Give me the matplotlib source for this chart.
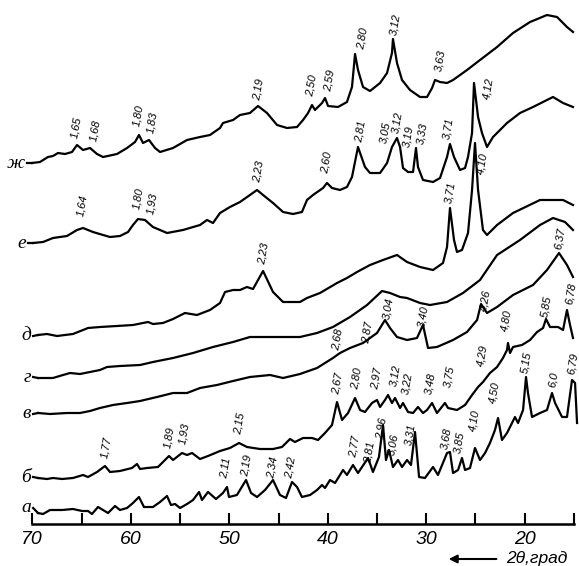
import matplotlib.pyplot as plt
import numpy as np

# 2theta (deg) and intensity (arb. units, curves already stacked)
a_x = [69.42, 68.91, 68.20, 66.98, 65.87, 64.95, 64.34, 63.94, 63.33, 62.82, 62.31, 61.60, 61.10, 60.38,
       59.78, 59.17, 58.66, 57.75, 57.03, 56.32, 55.92, 55.51, 55.00, 54.29, 53.68, 53.07, 52.77, 52.16,
       51.35, 50.64, 50.23, 50.03, 49.22, 48.30, 47.79, 47.18, 46.37, 45.56, 44.85, 44.24, 43.63, 43.12,
       42.62, 41.80, 41.09, 40.58, 40.28, 39.77, 39.26, 38.45, 38.05, 37.44, 36.93, 35.91, 35.41, 34.80,
       34.39, 34.09, 33.78, 33.38, 32.87, 32.46, 31.95, 31.55, 31.14, 30.73, 30.13, 29.31, 28.81, 27.89,
       27.59, 27.28, 26.77, 26.37, 26.06, 25.56, 25.05, 24.54, 24.03, 23.53, 23.02, 22.71, 22.31, 21.80,
       21.29, 20.99, 20.68, 20.17, 19.87, 19.67, 19.26, 18.45, 17.74, 17.23, 16.92, 16.21, 15.71, 15.20,
       14.89, 14.69]
a_y = [53, 52, 56, 56, 57, 55, 55, 52, 59, 56, 53, 60, 56, 58,
       63, 69, 59, 59, 64, 70, 61, 62, 58, 62, 66, 74, 66, 74,
       67, 73, 79, 69, 71, 86, 73, 69, 76, 86, 71, 68, 84, 79,
       69, 71, 76, 81, 78, 86, 83, 96, 91, 101, 93, 108, 94, 109,
       141, 106, 116, 99, 106, 99, 106, 101, 134, 89, 88, 99, 91, 113,
       114, 93, 96, 108, 96, 98, 118, 106, 113, 123, 136, 148, 126, 133,
       143, 149, 143, 156, 189, 173, 149, 153, 156, 173, 163, 149, 149, 186,
       183, 143]

b_x = [69.42, 68.51, 67.90, 66.98, 65.87, 64.85, 64.34, 63.43, 62.62, 62.11, 61.10, 59.88, 59.37, 59.06,
       58.35, 57.24, 56.73, 56.12, 55.71, 54.80, 54.29, 53.78, 52.97, 52.16, 50.94, 49.93, 49.01, 48.20,
       46.88, 45.56, 44.65, 43.83, 43.33, 42.51, 41.60, 40.99, 40.28, 39.57, 39.06, 38.55, 37.94, 37.23,
       36.72, 36.22, 35.51, 35.00, 34.69, 34.19, 33.88, 33.48, 33.17, 32.66, 32.36, 31.85, 31.34, 30.84,
       30.33, 29.92, 29.41, 28.91, 28.10, 27.79, 26.88, 26.06, 25.35, 24.74, 24.24, 23.53, 22.81, 22.21,
       21.80, 21.70, 21.49, 21.19, 20.28, 19.46, 18.75, 18.14, 17.84, 17.43, 16.62, 16.11, 15.71, 15.40,
       15.10]
b_y = [88, 87, 88, 87, 88, 91, 89, 94, 100, 94, 95, 98, 102, 97,
       98, 99, 104, 110, 106, 113, 111, 113, 107, 110, 115, 118, 123, 119,
       117, 117, 119, 127, 124, 128, 128, 126, 133, 141, 164, 146, 153, 168,
       156, 154, 163, 166, 159, 166, 171, 163, 168, 158, 163, 154, 153, 159,
       153, 156, 163, 153, 163, 158, 156, 161, 171, 179, 184, 193, 199, 208,
       216, 223, 213, 219, 221, 226, 234, 238, 247, 239, 239, 236, 256, 241,
       228]

v_x = [69.42, 68.20, 66.48, 65.16, 64.14, 63.13, 61.81, 60.38, 59.06, 57.34, 55.71, 54.29, 52.97, 51.25,
       49.62, 47.90, 45.86, 44.54, 42.82, 41.09, 39.47, 38.76, 37.74, 36.42, 35.71, 35.00, 34.19, 33.68,
       32.97, 31.95, 30.94, 30.33, 29.82, 28.91, 27.28, 25.86, 24.84, 24.44, 23.83, 22.81, 21.19, 19.16,
       17.74, 16.52, 15.71, 15.10]
v_y = [153, 152, 153, 153, 155, 158, 161, 163, 165, 169, 173, 173, 178, 181,
       185, 189, 191, 188, 192, 198, 208, 213, 218, 223, 228, 233, 246, 238,
       229, 226, 228, 241, 218, 219, 226, 234, 246, 262, 253, 259, 271, 281,
       296, 313, 301, 289]

g_x = [69.42, 67.90, 66.88, 66.17, 65.16, 64.14, 63.13, 62.41, 61.10, 59.06, 57.75, 55.71, 53.68, 51.65,
       49.62, 47.90, 46.17, 44.54, 42.82, 41.09, 39.47, 37.74, 36.01, 34.49, 33.68, 32.66, 31.95, 30.63,
       29.62, 27.89, 26.27, 24.54, 22.81, 20.48, 18.45, 17.13, 15.91, 15.10]
g_y = [188, 188, 191, 193, 192, 194, 196, 199, 200, 201, 204, 208, 213, 219,
       224, 229, 229, 229, 229, 233, 239, 249, 261, 275, 273, 269, 268, 263,
       261, 264, 273, 286, 311, 326, 341, 348, 344, 336]

d_x = [69.42, 68.51, 67.49, 65.87, 64.34, 63.13, 61.40, 59.78, 58.25, 57.75, 56.73, 55.71, 54.50, 53.28,
       51.96, 50.94, 50.43, 49.62, 48.91, 48.20, 47.59, 46.57, 45.56, 44.54, 42.82, 42.11, 40.79, 39.06,
       38.05, 37.03, 35.71, 34.39, 32.97, 31.95, 30.63, 29.31, 28.30, 27.89, 27.59, 27.18, 26.88, 26.37,
       25.76, 25.35, 25.05, 24.74, 24.24, 23.83, 22.81, 21.19, 18.45, 16.11, 15.10]
d_y = [231, 232, 230, 232, 238, 239, 240, 241, 244, 242, 243, 247, 253, 251,
       256, 263, 274, 276, 276, 279, 277, 295, 274, 264, 264, 268, 273, 283,
       288, 294, 301, 306, 311, 304, 299, 296, 303, 319, 358, 326, 314, 316,
       333, 376, 423, 376, 336, 331, 341, 353, 366, 366, 361]

e_x = [69.93, 68.91, 67.90, 66.48, 65.46, 64.85, 63.84, 62.82, 62.11, 61.10, 60.28, 59.78, 59.27, 58.56,
       57.75, 57.03, 56.32, 54.70, 52.97, 52.26, 51.65, 50.94, 49.93, 48.91, 47.90, 47.18, 46.57, 45.56,
       44.54, 43.53, 42.62, 42.11, 41.50, 40.48, 40.08, 39.57, 38.76, 38.05, 37.54, 36.93, 36.22, 35.71,
       34.69, 33.98, 33.48, 32.97, 32.66, 32.36, 31.85, 31.34, 31.04, 30.84, 30.33, 29.31, 28.60, 27.89,
       27.59, 27.18, 26.57, 26.06, 25.76, 25.35, 25.15, 24.74, 24.34, 23.83, 23.22, 21.80, 20.48, 19.16,
       17.74, 17.13, 16.11, 15.10]
e_y = [323, 324, 328, 330, 336, 338, 334, 331, 329, 330, 334, 341, 347, 346,
       339, 336, 333, 336, 341, 346, 343, 353, 359, 364, 371, 376, 371, 363,
       354, 352, 354, 366, 371, 378, 383, 378, 376, 379, 389, 419, 399, 393,
       393, 403, 419, 428, 419, 398, 394, 394, 418, 399, 386, 384, 388, 409,
       422, 409, 396, 398, 409, 433, 483, 449, 433, 419, 429, 443, 453, 459,
       466, 469, 463, 459]

zh_x = [70.03, 69.22, 68.41, 67.90, 67.39, 66.68, 65.97, 65.46, 64.85, 64.14, 63.43, 62.82, 61.40, 60.38,
        59.57, 59.17, 58.76, 58.15, 57.54, 57.03, 55.71, 54.29, 52.97, 51.96, 50.94, 50.64, 49.62, 48.91,
        47.90, 47.08, 46.17, 45.15, 44.14, 43.12, 42.51, 42.00, 41.60, 41.30, 40.58, 40.28, 39.97, 38.96,
        38.05, 37.54, 37.23, 36.93, 36.42, 35.71, 35.20, 34.69, 33.98, 33.48, 33.38, 32.97, 32.46, 31.65,
        30.63, 29.92, 29.41, 29.11, 28.60, 27.89, 27.28, 25.86, 24.54, 22.81, 21.19, 19.46, 17.74, 16.72,
        15.71, 15.10]
zh_y = [403, 404, 409, 410, 413, 412, 414, 421, 416, 418, 412, 409, 412, 418,
        424, 431, 423, 426, 418, 414, 418, 426, 429, 431, 438, 443, 446, 451,
        453, 460, 453, 441, 438, 439, 446, 453, 461, 456, 463, 468, 460, 459,
        464, 479, 512, 496, 479, 475, 479, 483, 493, 513, 527, 503, 486, 476,
        469, 469, 478, 486, 484, 483, 486, 496, 506, 519, 533, 544, 551, 549,
        539, 534]

# curve names and where they sit at the left end
curve_names = ["а", "б", "в", "г", "д", "е", "ж"]
curve_name_y = [58, 89, 152, 189, 230, 323, 403]

# d-spacing labels (text, 2theta, height of label centre)
peak_text = ["1,65", "1,68", "1,80", "1,83", "2,19", "2,50", "2,59", "2,80", "3,12", "3,63",
             "1,64", "1,80", "1,93", "2,23", "2,60", "2,81", "3,05", "3,12", "3,19", "3,33", "3,71", "4,12",
             "2,23", "3,71", "4,10",
             "6,37",
             "2,68", "2,87", "3,04", "3,40", "4,26",
             "1,77", "1,89", "1,93", "2,15", "2,67", "2,80", "2,97", "3,12", "3,22", "3,48", "3,75",
             "4,29", "4,80", "5,85", "6,78",
             "2,11", "2,19", "2,34", "2,42", "2,77", "2,81", "2,96", "3,06", "3,31", "3,68", "3,85",
             "4,10", "4,50", "5,15", "6,0", "6,79"]
peak_x = [65.56, 63.63, 59.27, 57.85, 47.08, 41.60, 39.87, 36.52, 33.17, 28.60,
          64.95, 59.27, 57.85, 46.98, 40.08, 36.72, 34.19, 32.97, 31.85, 30.43, 27.79, 23.73,
          46.57, 27.59, 24.34,
          16.42,
          38.96, 36.01, 33.88, 30.33, 24.03,
          62.52, 56.12, 54.60, 48.91, 38.96, 37.03, 35.00, 33.17, 31.95, 29.62, 27.69,
          24.34, 21.90, 17.84, 15.30,
          50.43, 48.20, 45.56, 43.73, 37.33, 35.71, 34.59, 33.38, 31.65, 27.99, 26.67,
          25.15, 23.12, 19.87, 17.13, 15.10]
peak_y = [439, 436, 451, 444, 477, 481, 486, 528, 542, 506,
          361, 368, 363, 395, 404, 435, 434, 444, 430, 433, 438, 478,
          313, 374, 403,
          328,
          227, 234, 258, 250, 266,
          119, 129, 133, 143, 183, 188, 188, 191, 183, 183, 190,
          211, 246, 260, 273,
          98, 101, 99, 99, 120, 114, 138, 122, 132, 128, 124,
          146, 174, 204, 186, 203]

curves = [(a_x, a_y), (b_x, b_y), (v_x, v_y), (g_x, g_y), (d_x, d_y), (e_x, e_y), (zh_x, zh_y)]

lab_font = "Liberation Sans"

fig = plt.figure(figsize=(5.79, 5.66), dpi=100)
ax = fig.add_axes([0, 0, 1, 1])
ax.set_xlim(73.28, 14.49)
ax.set_ylim(0, 566)

for (x, y) in curves:
    ax.plot(x, y, color="black", lw=1.6, solid_joinstyle="round")

for name, yy, (x, y) in zip(curve_names, curve_name_y, curves):
    ax.plot([x[0] + 0.5, x[0]], [yy, y[0]], color="black", lw=1.6)
    ax.text(x[0] + 0.7, yy, name, fontsize=14, style="italic", family="Liberation Serif",
            ha="right", va="center")

for t, x, y in zip(peak_text, peak_x, peak_y):
    ax.text(x, y, t, fontsize=8, style="italic", rotation=80, ha="center", va="center",
            family=lab_font)

for s in ["left", "right", "top"]:
    ax.spines[s].set_visible(False)
ax.spines["bottom"].set_position(("data", 42))
ax.spines["bottom"].set_bounds(70, 15)
ax.spines["bottom"].set_linewidth(1.8)
ticks = np.arange(70, 14, -5)
ax.set_xticks(ticks)
ax.set_xticklabels([str(v) if v % 10 == 0 else "" for v in ticks])
ax.tick_params(axis="x", direction="in", length=8, width=1.5, pad=5, labelsize=14)
for lab in ax.get_xticklabels():
    lab.set_style("italic")
    lab.set_family(lab_font)
ax.set_yticks([])

ax.annotate("", xy=(28.0, 7), xytext=(22.6, 7),
            arrowprops=dict(arrowstyle="-|>", color="black", lw=1.5, mutation_scale=12))
ax.text(21.9, 8, "2θ,град", fontsize=12.5, style="italic", ha="left", va="center", family=lab_font)

fig.savefig("out.png", dpi=100)
